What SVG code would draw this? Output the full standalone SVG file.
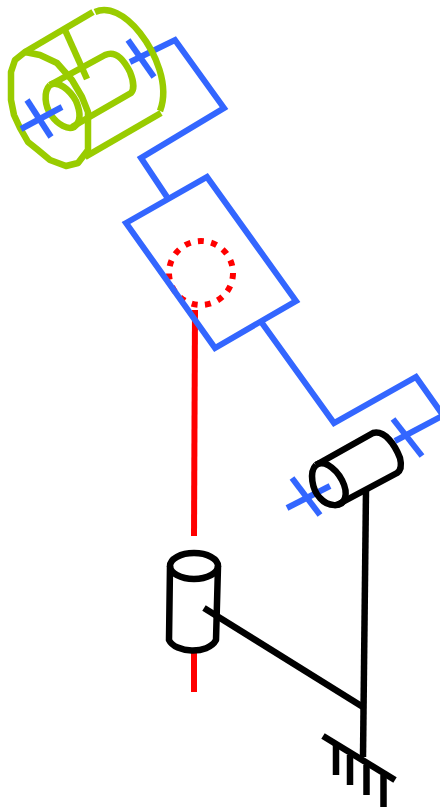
<svg xmlns="http://www.w3.org/2000/svg" width="440" height="807" viewBox="0 0 440 807">
<style>
path,line,ellipse,circle{fill:none;stroke-width:6}
.r{stroke:#ff0000}
.b{stroke:#3366ff;stroke-linejoin:miter}
.g{stroke:#99cc00;stroke-linejoin:round;stroke-width:6.500}
.k{stroke:#000000;stroke-linejoin:round;stroke-width:6.500}
</style>
<rect width="440" height="807" fill="#ffffff"/>
<g id="red-link">
<circle class="r" cx="201" cy="273" r="32" stroke-dasharray="6 7.400"/>
<path class="r" d="M195 310L194 536"/>
<path class="r" d="M194 652V692"/>
</g>
<g id="blue-links">
<path class="b" d="M126 223L207 177L296 301L215 348Z"/>
<path class="b" d="M130 62L175 40L224 108L141 158L167 197"/>
<path class="b" d="M262 323L334 423L416 377L445 418"/>
<path class="b" d="M395 441L446 414"/>
<path class="b" d="M393 419L422 456"/>
<path class="b" d="M287 508L330 486"/>
<path class="b" d="M292 478L320 515"/>
<path class="b" d="M128 40L154 77"/>
</g>
<g id="green-joint">
<path class="g" d="M25 52L93 12"/>
<path class="g" d="M95 12C108 6 125 14 140 33C155 52 170 85 160 111"/>
<path class="g" d="M161 113L85 157"/>
<path class="g" d="M25 52L40 55L57 63L72 80L82 97L88 112L88 150L78 163L66 166L50 160L38 150L28 142L20 128L14 115L11 100L11 72L15 60Z"/>
<path class="g" d="M65 30L87 79"/>
<path class="g" d="M50 85L105 55C116 50 124 60 130 72C134 82 134 90 131 93L72 127"/>
<path class="g" d="M50 85C43 92 45 106 51 115C58 125 68 130 74 127C81 122 81 113 76 101C70 90 58 80 50 85"/>
</g>
<g id="blue-axis-front">
<path class="b" d="M21 129L62 107"/>
<path class="b" d="M27 100L51 137"/>
</g>
<g id="black-joint-right">
<path class="k" d="M316 465L373 433C385 430 395 445 400 458C402 466 400 471 397 473L337 505"/>
<path class="k" d="M316 465C309 472 312 490 320 498C328 507 342 508 345 498C348 488 340 472 328 465C322 462 319 463 316 465"/>
</g>
<g id="black-joint-bottom">
<ellipse class="k" cx="194" cy="566" rx="24" ry="13"/>
<path class="k" d="M170 566L169 640C175 653 208 655 216 640L218 566"/>
</g>
<g id="ground">
<path class="k" d="M366 490L363 757"/>
<path class="k" d="M204 608L363 707"/>
<path class="k" d="M323 736L395 780"/>
<path class="k" d="M336 745V775"/>
<path class="k" d="M350 755V785"/>
<path class="k" d="M366.500 765V795"/>
<path class="k" d="M383.500 775V807"/>
</g>
</svg>
